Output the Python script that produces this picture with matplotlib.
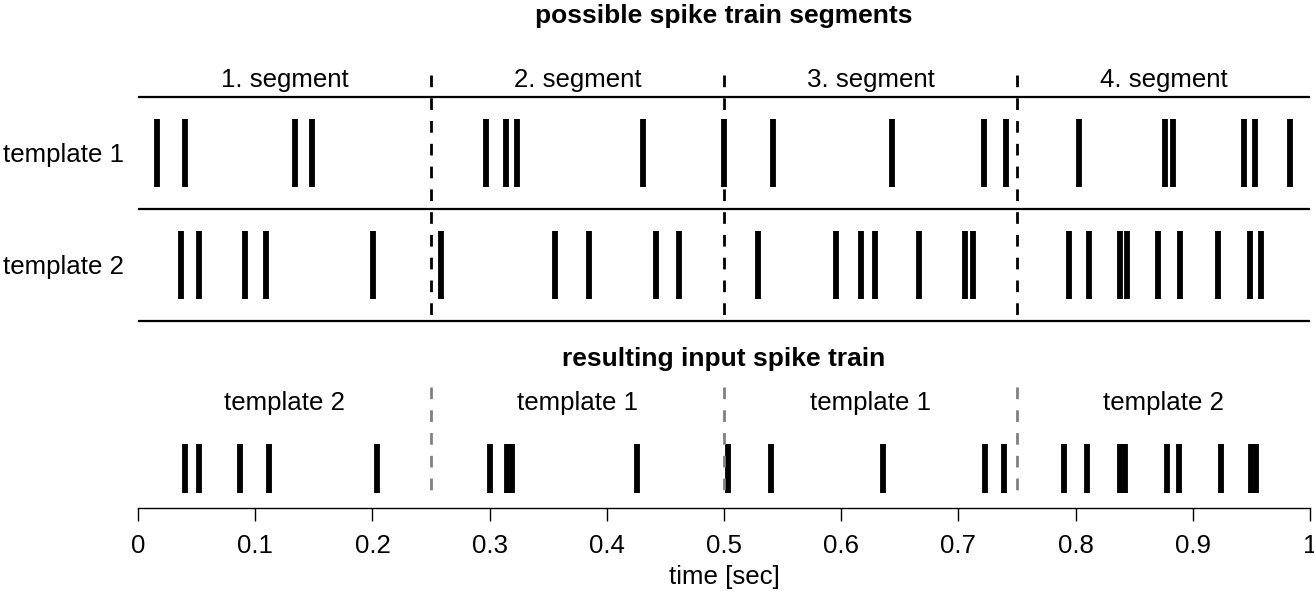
import matplotlib
import numpy as np

matplotlib.use("Agg", force=True)
import matplotlib.pyplot as plt

plt.rcParams["font.family"] = ["Liberation Sans", "DejaVu Sans"]

# spike times [sec]
template1 = [0.016, 0.040, 0.134, 0.1485, 0.297, 0.314, 0.323, 0.431, 0.4997,
             0.5415, 0.643, 0.7215, 0.7403, 0.8026, 0.8763, 0.8828, 0.9434,
             0.9528, 0.983]
template2 = [0.0367, 0.052, 0.0913, 0.109, 0.2005, 0.2583, 0.3558, 0.3848,
             0.442, 0.4616, 0.5287, 0.5956, 0.6166, 0.6285, 0.6664, 0.7056,
             0.7122, 0.7944, 0.8115, 0.8379, 0.8439, 0.8703, 0.8888, 0.9212,
             0.9488, 0.9579]
input_train = [0.040, 0.052, 0.087, 0.112, 0.204, 0.300, 0.3145, 0.319,
               0.4255, 0.5037, 0.5398, 0.6354, 0.7223, 0.7392, 0.7898, 0.8094,
               0.8375, 0.842, 0.8779, 0.888, 0.924, 0.9494, 0.9537]

segment_edges = [0.25, 0.5, 0.75]
segment_labels = ["1. segment", "2. segment", "3. segment", "4. segment"]
row_labels = ["template 1", "template 2"]
chosen_templates = ["template 2", "template 1", "template 1", "template 2"]
xticks = [0, 0.1, 0.2, 0.3, 0.4, 0.5, 0.6, 0.7, 0.8, 0.9, 1]

FS = 18.6
TITLE_FS = 19
SPIKE_LW = 4.2

W, H = 1314, 591
fig = plt.figure(figsize=(W / 100, H / 100), dpi=100)

left = 138 / W
width = 1172 / W

# top panel: one unit = 112 px, y=0 at pixel 321
unit = 112
ax1 = fig.add_axes([left, (H - 321) / H, width, 2.8 * unit / H])
ax1.set_xlim(0, 1)
ax1.set_ylim(0, 2.8)
ax1.axis("off")

for y in (0, 1, 2):
    ax1.plot([0, 1], [y, y], color="black", lw=1.6, clip_on=False,
             solid_capstyle="butt")

for i, spikes in enumerate([template1, template2]):
    base = 1 - i
    ax1.vlines(spikes, base + 0.2, base + 0.8, color="black", lw=SPIKE_LW)
    ax1.text(-0.1152, base + 0.48, row_labels[i], ha="left", va="center",
             fontsize=FS, transform=ax1.get_yaxis_transform())

for x in segment_edges:
    ax1.plot([x, x], [2.196, 0], color="black", lw=2, ls=(0, (4.2, 4.0)),
             clip_on=False)

centers = np.arange(len(segment_labels)) * 0.25 + 0.125
for c, lab in zip(centers, segment_labels):
    ax1.text(c, 2.15, lab, ha="center", va="center", fontsize=FS)

ax1.text(0.5, 2.72, "possible spike train segments", ha="center",
         va="center", fontsize=TITLE_FS, fontweight="bold")

# bottom panel: y=0 at pixel 508
ax2 = fig.add_axes([left, (H - 508) / H, width, 1.5 * unit / H])
ax2.set_xlim(0, 1)
ax2.set_ylim(0, 1.5)
for side in ("top", "right", "left"):
    ax2.spines[side].set_visible(False)
ax2.spines["bottom"].set_linewidth(1.0)
ax2.set_yticks([])
ax2.set_xticks(xticks, [f"{t:g}" for t in xticks], fontsize=FS)
ax2.tick_params(axis="x", direction="out", length=9, width=1.0, pad=9.5)

ax2.vlines(input_train, 0.134, 0.571, color="black", lw=SPIKE_LW)
for x in segment_edges:
    ax2.plot([x, x], [1.08, 0.071], color="#808080", lw=2,
             ls=(0, (4.2, 4.0)), clip_on=False)
for c, lab in zip(centers, chosen_templates):
    ax2.text(c, 0.94, lab, ha="center", va="center", fontsize=FS)
ax2.text(0.5, 1.33, "resulting input spike train", ha="center", va="center",
         fontsize=TITLE_FS, fontweight="bold")
ax2.set_xlabel("time [sec]", fontsize=FS, labelpad=5)

fig.savefig("out.png", dpi=100)
plt.close(fig)
